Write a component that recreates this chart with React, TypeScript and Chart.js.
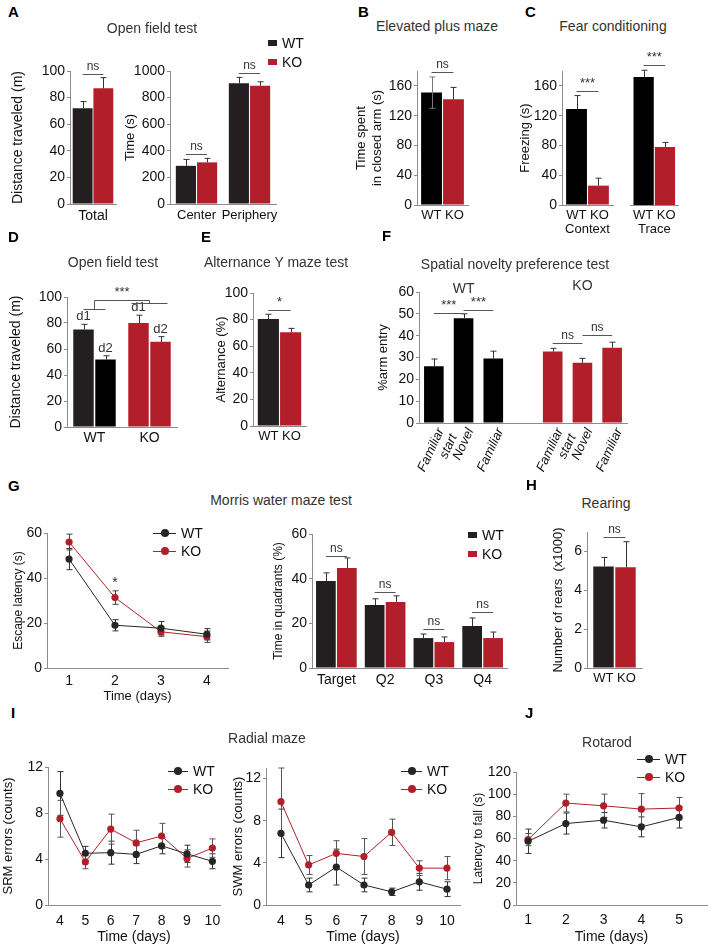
import React, { useEffect, useRef } from 'react';
import { Chart, registerables } from 'chart.js';
Chart.register(...registerables);

// ---------------- DATA ----------------
const groups = ['WT', 'KO'];

// A – open field
const aTotalCats = ['Total'];
const aTotalWT = [72];
const aTotalWTErr = [5];
const aTotalKO = [87];
const aTotalKOErr = [8];
const aTimeCats = ['Center', 'Periphery'];
const aTimeWT = [287, 907];
const aTimeWTErr = [48, 45];
const aTimeKO = [313, 889];
const aTimeKOErr = [30, 30];

// B – elevated plus maze
const bCats = ['WT KO'];
const bWT = [151];
const bWTErr = [21];
const bWTErrLo = [21];
const bKO = [142];
const bKOErr = [16];

// C – fear conditioning
const cContextCats = [['WT KO', 'Context']];
const cTraceCats = [['WT KO', 'Trace']];
const cContextWT = [129];
const cContextWTErr = [18];
const cContextKO = [26];
const cContextKOErr = [10];
const cTraceWT = [172];
const cTraceWTErr = [9];
const cTraceKO = [78];
const cTraceKOErr = [6];

// D – open field (days)
const dCats = ['WT', 'KO'];
const dDay1 = [75, 80];
const dDay1Err = [4, 6];
const dDay2 = [52, 65.5];
const dDay2Err = [2.8, 4];

// E – alternance
const eCats = ['WT KO'];
const eWT = [80.5];
const eWTErr = [3.5];
const eKO = [70.4];
const eKOErr = [3];

// F – spatial novelty
const fCats = [['Familiar', 'start'], 'Novel', 'Familiar', '', ['Familiar', 'start'], 'Novel', 'Familiar'];
const fWT = [26, 48, 29.5, null, null, null, null];
const fWTErr = [3.3, 2, 3.4, null, null, null, null];
const fKO = [null, null, null, null, 32.7, 27.6, 34.5];
const fKOErr = [null, null, null, null, 1.5, 2, 2.5];

// G – Morris water maze
const gDays = [1, 2, 3, 4];
const gLatWT = [48.4, 19, 17.7, 15];
const gLatWTErr = [4.7, 2.5, 3, 2.5];
const gLatKO = [56, 31.3, 16.1, 13.9];
const gLatKOErr = [3.5, 3, 2, 2.5];
const gQuadCats = ['Target', 'Q2', 'Q3', 'Q4'];
const gQuadWT = [39, 28.2, 13.4, 18.8];
const gQuadWTErr = [3.6, 2.8, 1.8, 3.6];
const gQuadKO = [44.8, 29.6, 11.6, 13.4];
const gQuadKOErr = [4.5, 2.7, 2.3, 2.7];

// H – rearing
const hCats = ['WT KO'];
const hWT = [5.23];
const hWTErr = [0.46];
const hKO = [5.18];
const hKOErr = [1.32];

// I – radial maze
const iDays = [4, 5, 6, 7, 8, 9, 10];
const iSrmWT = [9.7, 4.5, 4.55, 4.4, 5.15, 4.45, 3.8];
const iSrmWTErr = [1.9, 0.6, 1.0, 0.8, 0.7, 0.75, 0.65];
const iSrmKO = [7.5, 3.75, 6.6, 5.4, 6.0, 4.05, 4.95];
const iSrmKOErr = [1.6, 0.6, 1.3, 1.1, 1.1, 0.75, 0.8];
const iSwmWT = [6.8, 1.9, 3.6, 1.9, 1.25, 2.2, 1.5];
const iSwmWTErr = [2.3, 0.65, 1.7, 0.65, 0.35, 0.8, 0.7];
const iSwmKO = [9.8, 3.8, 4.9, 4.6, 6.9, 3.5, 3.5];
const iSwmKOErr = [3.2, 0.9, 1.2, 1.7, 1.25, 0.7, 1.1];

// J – rotarod
const jDays = [1, 2, 3, 4, 5];
const jWT = [57.5, 73.5, 76.5, 70.5, 79];
const jWTErr = [11, 9.5, 7, 9, 9.5];
const jKO = [59, 92, 89.5, 86.5, 87.5];
const jKOErr = [5.5, 8, 10.5, 14, 9.5];

// ---------------- STYLE ----------------
const FONT = '"Liberation Sans", Arial, Helvetica, sans-serif';
const TXT = '#111111';
const ANN = '#333333';
const AXIS = '#8c8c8c';
const BLACK = '#231f20';
const PURE = '#000000';
const RED = '#b21f2a';

Chart.defaults.font.family = FONT;
Chart.defaults.color = TXT;

type Box = { L: number; T: number; R: number; B: number; yW: number; xH: number; padTop: number; padRight?: number };

// ---------------- PLUGIN: error bars + annotations ----------------
function drawErrors(chart: any, kind: string) {
  const ctx = chart.ctx;
  const ys = chart.scales.y;
  chart.data.datasets.forEach((ds: any, di: number) => {
    if (!ds.err) return;
    const meta = chart.getDatasetMeta(di);
    if (meta.type !== kind) return;
    ctx.save();
    ctx.strokeStyle = ds.errColor || '#333';
    ctx.lineWidth = 1;
    meta.data.forEach((el: any, i: number) => {
      const p = meta.controller.getParsed(i);
      const v = p ? p.y : null;
      const e = ds.err[i];
      if (v == null || e == null || !isFinite(v)) return;
      const x = Math.round(el.x) + 0.5;
      const hi = ys.getPixelForValue(v + e);
      const lo = ds.errLo ? ys.getPixelForValue(v - ds.errLo[i]) : ys.getPixelForValue(v);
      ctx.beginPath();
      ctx.moveTo(x, lo);
      ctx.lineTo(x, hi);
      ctx.moveTo(x - 3, hi);
      ctx.lineTo(x + 3, hi);
      if (ds.errLo) {
        ctx.moveTo(x - 3, lo);
        ctx.lineTo(x + 3, lo);
      }
      ctx.stroke();
    });
    ctx.restore();
  });
}

function barX(chart: any, ref: number[]) {
  return chart.getDatasetMeta(ref[0]).data[ref[1]].x;
}

function drawText(ctx: any, text: string, x: number, y: number, size: number, baseline: string) {
  ctx.font = `${size}px ${FONT}`;
  ctx.fillStyle = ANN;
  ctx.textAlign = 'center';
  ctx.textBaseline = baseline;
  ctx.fillText(text, x, y);
}

function drawAnnotations(chart: any, items: any[]) {
  const ctx = chart.ctx;
  const ys = chart.scales.y;
  ctx.save();
  ctx.strokeStyle = '#555';
  ctx.lineWidth = 1;
  items.forEach((it: any) => {
    const tsize = it.text && it.text.indexOf('*') >= 0 ? 13 : 12;
    if (it.type === 'sig') {
      const x1 = barX(chart, it.a);
      const x2 = barX(chart, it.b);
      const y = Math.round(ys.getPixelForValue(it.y)) + 0.5;
      ctx.beginPath();
      ctx.moveTo(x1, y);
      ctx.lineTo(x2, y);
      ctx.stroke();
      drawText(ctx, it.text, (x1 + x2) / 2, y - 2, tsize, 'bottom');
    } else if (it.type === 'text') {
      const x = barX(chart, it.at);
      drawText(ctx, it.text, x, ys.getPixelForValue(it.y), it.size || 14, 'middle');
    } else if (it.type === 'barLabels') {
      chart.data.datasets.forEach((ds: any, di: number) => {
        const meta = chart.getDatasetMeta(di);
        meta.data.forEach((el: any, i: number) => {
          const v = meta.controller.getParsed(i).y;
          const e = ds.err ? ds.err[i] : 0;
          drawText(ctx, ds.label, el.x, ys.getPixelForValue(v + e) - 1, 13, 'bottom');
        });
      });
    } else if (it.type === 'bracket') {
      const top = Math.round(ys.getPixelForValue(it.top)) + 0.5;
      const mids: number[] = [];
      it.groups.forEach((g: any) => {
        const x1 = barX(chart, g.a) - (g.ext || 0);
        const x2 = barX(chart, g.b) + (g.ext || 0);
        const y = Math.round(ys.getPixelForValue(g.y)) + 0.5;
        const m = (barX(chart, g.a) + barX(chart, g.b)) / 2;
        mids.push(m);
        ctx.beginPath();
        ctx.moveTo(x1, y);
        ctx.lineTo(x2, y);
        ctx.moveTo(m, y);
        ctx.lineTo(m, top);
        ctx.stroke();
      });
      ctx.beginPath();
      ctx.moveTo(mids[0], top);
      ctx.lineTo(mids[mids.length - 1], top);
      ctx.stroke();
      drawText(ctx, it.text, (mids[0] + mids[mids.length - 1]) / 2, top - 2, 13, 'bottom');
    }
  });
  ctx.restore();
}

const extras = {
  id: 'extras',
  beforeDatasetsDraw(chart: any) {
    drawErrors(chart, 'line');
  },
  afterDatasetsDraw(chart: any, _args: any, opts: any) {
    drawErrors(chart, 'bar');
    drawAnnotations(chart, (opts && opts.items) || []);
  },
};

// ---------------- SCALE HELPERS ----------------
type YOpt = { min: number; max: number; step: number; title?: string | string[]; titleSize?: number; tickSize?: number; display?: boolean };

function yScale(o: YOpt, box: Box) {
  if (o.display === false) return { type: 'linear', display: false, min: o.min, max: o.max };
  return {
    type: 'linear',
    min: o.min,
    max: o.max,
    border: { display: true, color: AXIS, width: 1 },
    grid: { display: true, drawOnChartArea: false, drawTicks: true, tickLength: 3, color: AXIS },
    ticks: {
      stepSize: o.step,
      includeBounds: false,
      padding: 2,
      color: TXT,
      font: { size: o.tickSize ?? 14, family: FONT },
      callback: (v: any) => String(v),
    },
    title: o.title
      ? { display: true, text: o.title, color: TXT, padding: 0, font: { size: o.titleSize ?? 13, family: FONT, lineHeight: 1.25 } }
      : { display: false },
    afterFit: (s: any) => {
      s.width = box.yW;
    },
  };
}

function xCat(box: Box, o: { size?: number; rotation?: number; italic?: boolean; padding?: number; labelOffset?: number } = {}) {
  return {
    type: 'category',
    offset: true,
    border: { display: true, color: AXIS, width: 1 },
    grid: { display: false, drawTicks: false },
    ticks: {
      color: TXT,
      padding: o.padding ?? 3,
      autoSkip: false,
      labelOffset: o.labelOffset ?? 0,
      maxRotation: o.rotation ?? 0,
      minRotation: o.rotation ?? 0,
      font: { size: o.size ?? 14, family: FONT, style: o.italic ? 'italic' : 'normal', lineHeight: 1.1 },
    },
    afterFit: (s: any) => {
      s.height = box.xH;
    },
  };
}

function xLin(box: Box, o: { min: number; max: number; values: number[]; title: string; padding?: number; titleSize?: number }) {
  return {
    type: 'linear',
    min: o.min,
    max: o.max,
    border: { display: true, color: AXIS, width: 1 },
    grid: { display: false, drawTicks: false },
    afterBuildTicks: (s: any) => {
      s.ticks = o.values.map((v) => ({ value: v }));
    },
    ticks: { color: TXT, padding: o.padding ?? 7, autoSkip: false, maxRotation: 0, font: { size: 14, family: FONT } },
    title: { display: true, text: o.title, color: TXT, padding: 0, font: { size: o.titleSize ?? 14, family: FONT } },
    afterFit: (s: any) => {
      s.height = box.xH;
    },
  };
}

function baseOptions(box: Box, items: any[]) {
  return {
    responsive: false,
    animation: false,
    events: [],
    layout: { padding: { top: box.padTop, right: box.padRight ?? 12, left: 0, bottom: 0 } },
    plugins: { legend: { display: false }, tooltip: { enabled: false }, extras: { items } },
  };
}

function barCfg(box: Box, labels: any[], datasets: any[], y: YOpt, x: any, items: any[], cp: number, bp: number) {
  return {
    type: 'bar',
    data: { labels, datasets: datasets.map((d) => ({ borderWidth: 0, errColor: '#333', ...d })) },
    options: {
      ...baseOptions(box, items),
      datasets: { bar: { categoryPercentage: cp, barPercentage: bp } },
      scales: { x, y: yScale(y, box) },
    },
    plugins: [extras],
  };
}

function lineDs(label: string, days: number[], vals: number[], err: number[], color: string, errColor: string) {
  return {
    label,
    data: days.map((d, i) => ({ x: d, y: vals[i] })),
    err,
    errLo: err,
    errColor,
    borderColor: color,
    backgroundColor: color,
    pointBackgroundColor: color,
    pointBorderWidth: 0,
    pointRadius: 3.6,
    borderWidth: 1,
    tension: 0,
  };
}

function lineCfg(box: Box, datasets: any[], y: YOpt, x: any, items: any[]) {
  return {
    type: 'line',
    data: { datasets },
    options: { ...baseOptions(box, items), scales: { x, y: yScale(y, box) } },
    plugins: [extras],
  };
}

// ---------------- PANELS ----------------
type Panel = { box: Box; make: (box: Box) => any };

const panels: Panel[] = [
  // A1
  {
    box: { L: 70, T: 71, R: 116, B: 204, yW: 61, xH: 26, padTop: 22 },
    make: (b) =>
      barCfg(
        b,
        aTotalCats,
        [
          { label: groups[0], data: aTotalWT, err: aTotalWTErr, backgroundColor: BLACK },
          { label: groups[1], data: aTotalKO, err: aTotalKOErr, backgroundColor: RED },
        ],
        { min: 0, max: 100, step: 20, title: 'Distance traveled (m)', titleSize: 14 },
        xCat(b, { padding: 4 }),
        [{ type: 'sig', a: [0, 0], b: [1, 0], y: 97.5, text: 'ns' }],
        0.9,
        0.96
      ),
  },
  // A2
  {
    box: { L: 170, T: 71, R: 276, B: 204, yW: 48, xH: 26, padTop: 22 },
    make: (b) =>
      barCfg(
        b,
        aTimeCats,
        [
          { label: groups[0], data: aTimeWT, err: aTimeWTErr, backgroundColor: BLACK },
          { label: groups[1], data: aTimeKO, err: aTimeKOErr, backgroundColor: RED },
        ],
        { min: 0, max: 1000, step: 200, title: 'Time (s)', titleSize: 13 },
        xCat(b, { size: 13, padding: 4 }),
        [
          { type: 'sig', a: [0, 0], b: [1, 0], y: 373, text: 'ns' },
          { type: 'sig', a: [0, 1], b: [1, 1], y: 982, text: 'ns' },
        ],
        0.8,
        0.95
      ),
  },
  // B
  {
    box: { L: 417, T: 71, R: 468, B: 205, yW: 64, xH: 26, padTop: 22 },
    make: (b) =>
      barCfg(
        b,
        bCats,
        [
          { label: groups[0], data: bWT, err: bWTErr, errLo: bWTErrLo, errColor: '#777', backgroundColor: PURE },
          { label: groups[1], data: bKO, err: bKOErr, backgroundColor: RED },
        ],
        { min: 0, max: 180, step: 40, title: ['Time spent', 'in closed arm (s)'], titleSize: 13 },
        xCat(b, { size: 13, padding: 3 }),
        [{ type: 'sig', a: [0, 0], b: [1, 0], y: 178, text: 'ns' }],
        0.86,
        0.95
      ),
  },
  // C1 context
  {
    box: { L: 562, T: 71, R: 613, B: 205, yW: 45, xH: 40, padTop: 22 },
    make: (b) =>
      barCfg(
        b,
        cContextCats,
        [
          { label: groups[0], data: cContextWT, err: cContextWTErr, backgroundColor: PURE },
          { label: groups[1], data: cContextKO, err: cContextKOErr, backgroundColor: RED },
        ],
        { min: 0, max: 180, step: 40, title: 'Freezing (s)', titleSize: 13 },
        xCat(b, { size: 13, padding: 3 }),
        [{ type: 'sig', a: [0, 0], b: [1, 0], y: 153, text: '***' }],
        0.86,
        0.95
      ),
  },
  // C2 trace
  {
    box: { L: 630, T: 71, R: 678, B: 205, yW: 0, xH: 40, padTop: 22 },
    make: (b) =>
      barCfg(
        b,
        cTraceCats,
        [
          { label: groups[0], data: cTraceWT, err: cTraceWTErr, backgroundColor: PURE },
          { label: groups[1], data: cTraceKO, err: cTraceKOErr, backgroundColor: RED },
        ],
        { min: 0, max: 180, step: 40, display: false },
        xCat(b, { size: 13, padding: 3 }),
        [{ type: 'sig', a: [0, 0], b: [1, 0], y: 188, text: '***' }],
        0.9,
        0.95
      ),
  },
  // D
  {
    box: { L: 67, T: 297, R: 177, B: 427, yW: 60, xH: 26, padTop: 26 },
    make: (b) =>
      barCfg(
        b,
        dCats,
        [
          { label: 'd1', data: dDay1, err: dDay1Err, backgroundColor: [BLACK, RED] },
          { label: 'd2', data: dDay2, err: dDay2Err, backgroundColor: [PURE, RED] },
        ],
        { min: 0, max: 100, step: 20, title: 'Distance traveled (m)', titleSize: 14 },
        xCat(b, { size: 14, padding: 3 }),
        [
          { type: 'barLabels' },
          {
            type: 'bracket',
            groups: [
              { a: [0, 0], b: [1, 0], y: 90.5, ext: 0 },
              { a: [0, 1], b: [1, 1], y: 95.6, ext: 7 },
            ],
            top: 98,
            text: '***',
          },
        ],
        0.8,
        0.93
      ),
  },
  // E
  {
    box: { L: 253, T: 293, R: 306, B: 426, yW: 40, xH: 26, padTop: 22 },
    make: (b) =>
      barCfg(
        b,
        eCats,
        [
          { label: groups[0], data: eWT, err: eWTErr, backgroundColor: BLACK },
          { label: groups[1], data: eKO, err: eKOErr, backgroundColor: RED },
        ],
        { min: 0, max: 100, step: 20, title: 'Alternance (%)', titleSize: 13 },
        xCat(b, { size: 13, padding: 3 }),
        [{ type: 'sig', a: [0, 0], b: [1, 0], y: 87, text: '*' }],
        0.84,
        0.95
      ),
  },
  // F
  {
    box: { L: 419, T: 292, R: 627, B: 423, yW: 44, xH: 62, padTop: 14 },
    make: (b) =>
      barCfg(
        b,
        fCats,
        [
          { label: groups[0], data: fWT, err: fWTErr, backgroundColor: PURE, skipNull: true },
          { label: groups[1], data: fKO, err: fKOErr, backgroundColor: RED, skipNull: true },
        ],
        { min: 0, max: 60, step: 10, title: '%arm entry', titleSize: 13, tickSize: 14 },
        xCat(b, { size: 13, rotation: 65, italic: true, padding: 3, labelOffset: 7 }),
        [
          { type: 'sig', a: [0, 0], b: [0, 1], y: 50.5, text: '***' },
          { type: 'sig', a: [0, 1], b: [0, 2], y: 51.6, text: '***' },
          { type: 'sig', a: [1, 4], b: [1, 5], y: 36.6, text: 'ns' },
          { type: 'sig', a: [1, 5], b: [1, 6], y: 40.3, text: 'ns' },
          { type: 'text', at: [0, 1], y: 61.4, text: groups[0], size: 14 },
          { type: 'text', at: [1, 5], y: 62.5, text: groups[1], size: 14 },
        ],
        1,
        0.66
      ),
  },
  // G1
  {
    box: { L: 47, T: 533, R: 228, B: 668, yW: 36, xH: 36, padTop: 12 },
    make: (b) =>
      lineCfg(
        b,
        [
          lineDs(groups[0], gDays, gLatWT, gLatWTErr, '#262626', '#333'),
          lineDs(groups[1], gDays, gLatKO, gLatKOErr, RED, '#444'),
        ],
        { min: 0, max: 60, step: 20, title: 'Escape latency (s)', titleSize: 12 },
        xLin(b, { min: 0.52, max: 4.46, values: gDays, title: 'Time (days)', padding: 5, titleSize: 13 }),
        [{ type: 'text', at: [1, 1], y: 37.5, text: '*', size: 14 }]
      ),
  },
  // G2
  {
    box: { L: 312, T: 534, R: 507, B: 668, yW: 41, xH: 26, padTop: 16 },
    make: (b) =>
      barCfg(
        b,
        gQuadCats,
        [
          { label: groups[0], data: gQuadWT, err: gQuadWTErr, backgroundColor: BLACK },
          { label: groups[1], data: gQuadKO, err: gQuadKOErr, backgroundColor: RED },
        ],
        { min: 0, max: 60, step: 20, title: 'Time in quadrants (%)', titleSize: 12 },
        xCat(b, { size: 14, padding: 4 }),
        [
          { type: 'sig', a: [0, 0], b: [1, 0], y: 50.2, text: 'ns' },
          { type: 'sig', a: [0, 1], b: [1, 1], y: 34, text: 'ns' },
          { type: 'sig', a: [0, 2], b: [1, 2], y: 17.5, text: 'ns' },
          { type: 'sig', a: [0, 3], b: [1, 3], y: 25, text: 'ns' },
        ],
        0.86,
        0.94
      ),
  },
  // H
  {
    box: { L: 587, T: 532, R: 642, B: 668, yW: 37, xH: 26, padTop: 16 },
    make: (b) =>
      barCfg(
        b,
        hCats,
        [
          { label: groups[0], data: hWT, err: hWTErr, backgroundColor: BLACK },
          { label: groups[1], data: hKO, err: hKOErr, backgroundColor: RED },
        ],
        { min: 0, max: 7, step: 2, title: 'Number of rears  (x1000)', titleSize: 13 },
        xCat(b, { size: 13, padding: 3 }),
        [{ type: 'sig', a: [0, 0], b: [1, 0], y: 6.72, text: 'ns' }],
        0.8,
        0.93
      ),
  },
  // I1
  {
    box: { L: 48, T: 767, R: 220, B: 905, yW: 48, xH: 41, padTop: 12 },
    make: (b) =>
      lineCfg(
        b,
        [
          lineDs(groups[0], iDays, iSrmWT, iSrmWTErr, '#262626', '#333'),
          lineDs(groups[1], iDays, iSrmKO, iSrmKOErr, RED, '#555'),
        ],
        { min: 0, max: 12, step: 4, title: 'SRM errors (counts)', titleSize: 13 },
        xLin(b, { min: 3.53, max: 10.3, values: iDays, title: 'Time (days)', padding: 8 }),
        []
      ),
  },
  // I2
  {
    box: { L: 266, T: 768, R: 460, B: 905, yW: 36, xH: 41, padTop: 12 },
    make: (b) =>
      lineCfg(
        b,
        [
          lineDs(groups[0], iDays, iSwmWT, iSwmWTErr, '#262626', '#333'),
          lineDs(groups[1], iDays, iSwmKO, iSwmKOErr, RED, '#555'),
        ],
        { min: 0, max: 13, step: 4, title: 'SWM errors (counts)', titleSize: 13 },
        xLin(b, { min: 3.46, max: 10.47, values: iDays, title: 'Time (days)', padding: 8 }),
        []
      ),
  },
  // J
  {
    box: { L: 516, T: 772, R: 707, B: 905, yW: 45, xH: 41, padTop: 12, padRight: 4 },
    make: (b) =>
      lineCfg(
        b,
        [
          lineDs(groups[0], jDays, jWT, jWTErr, '#262626', '#333'),
          lineDs(groups[1], jDays, jKO, jKOErr, RED, '#555'),
        ],
        { min: 0, max: 120, step: 20, title: 'Latency to fall (s)', titleSize: 12 },
        xLin(b, { min: 0.68, max: 5.74, values: jDays, title: 'Time (days)', padding: 7 }),
        []
      ),
  },
];

// ---------------- HTML OVERLAYS ----------------
const letters: [string, number, number][] = [
  ['A', 8, 4], ['B', 358, 4], ['C', 525, 4], ['D', 8, 229], ['E', 201, 229],
  ['F', 382, 228], ['G', 8, 478], ['H', 526, 477], ['I', 11, 705], ['J', 525, 705],
];

const titles: [string, number, number][] = [
  ['Open field test', 152, 28],
  ['Elevated plus maze', 437, 26],
  ['Fear conditioning', 613, 26],
  ['Open field test', 113, 262],
  ['Alternance Y maze test', 276, 262],
  ['Spatial novelty preference test', 515, 264],
  ['Morris water maze test', 281, 500],
  ['Rearing', 606, 503],
  ['Radial maze', 267, 738],
  ['Rotarod', 607, 742],
];

const squareLegends = [
  { x: 268, y: 43 },
  { x: 468, y: 535 },
];
const lineLegends = [
  { x: 153, y: 533, len: 23 },
  { x: 168, y: 771, len: 20 },
  { x: 401, y: 771, len: 21 },
  { x: 637, y: 759, len: 23 },
];

function ChartCanvas({ box, make }: Panel) {
  const ref = useRef<HTMLCanvasElement>(null);
  const padRight = box.padRight ?? 12;
  const w = box.R - box.L + box.yW + padRight;
  const h = box.B - box.T + box.padTop + box.xH;
  useEffect(() => {
    const chart = new Chart(ref.current as HTMLCanvasElement, make(box) as any);
    return () => chart.destroy();
  }, []);
  return (
    <canvas
      ref={ref}
      width={w}
      height={h}
      style={{ position: 'absolute', left: box.L - box.yW, top: box.T - box.padTop, width: w, height: h }}
    />
  );
}

function SquareLegend({ x, y }: { x: number; y: number }) {
  const colors = [BLACK, RED];
  return (
    <>
      {groups.map((g, i) => (
        <div
          key={g}
          style={{ position: 'absolute', left: x, top: y + i * 19 - 8, height: 16, display: 'flex', alignItems: 'center', fontSize: 14, color: TXT, whiteSpace: 'nowrap', lineHeight: 1 }}
        >
          <span style={{ display: 'inline-block', width: 9, height: 6, background: colors[i], marginRight: 5 }} />
          {g}
        </div>
      ))}
    </>
  );
}

function LineLegend({ x, y, len }: { x: number; y: number; len: number }) {
  const colors = ['#262626', RED];
  return (
    <>
      {groups.map((g, i) => (
        <div
          key={g}
          style={{ position: 'absolute', left: x, top: y + i * 18 - 8, height: 16, display: 'flex', alignItems: 'center', fontSize: 14, color: TXT, whiteSpace: 'nowrap', lineHeight: 1 }}
        >
          <span style={{ position: 'relative', display: 'inline-block', width: len, height: 8, marginRight: 5 }}>
            <span style={{ position: 'absolute', left: 0, right: 0, top: 4, height: 1, background: colors[i] }} />
            <span style={{ position: 'absolute', left: len / 2 - 4, top: 0, width: 8, height: 8, borderRadius: '50%', background: colors[i] }} />
          </span>
          {g}
        </div>
      ))}
    </>
  );
}

export default function App() {
  return (
    <div style={{ position: 'absolute', left: 0, top: 0, width: 711, height: 948, background: '#fff', fontFamily: FONT, overflow: 'hidden' }}>
      {panels.map((p, i) => (
        <ChartCanvas key={i} box={p.box} make={p.make} />
      ))}
      {letters.map(([t, x, y]) => (
        <div key={t} style={{ position: 'absolute', left: x, top: y, fontSize: 15, fontWeight: 'bold', lineHeight: 1, color: '#000' }}>
          {t}
        </div>
      ))}
      {titles.map(([t, x, y], i) => (
        <div
          key={i}
          style={{ position: 'absolute', left: x, top: y, transform: 'translate(-50%, -50%)', fontSize: 14, lineHeight: 1, color: '#333', whiteSpace: 'nowrap' }}
        >
          {t}
        </div>
      ))}
      {squareLegends.map((l, i) => (
        <SquareLegend key={i} x={l.x} y={l.y} />
      ))}
      {lineLegends.map((l, i) => (
        <LineLegend key={i} x={l.x} y={l.y} len={l.len} />
      ))}
    </div>
  );
}
